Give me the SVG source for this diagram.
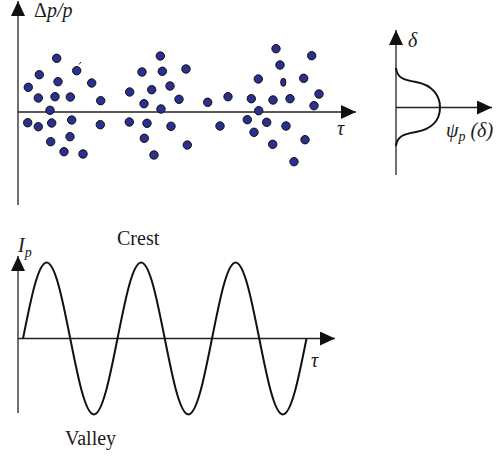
<svg xmlns="http://www.w3.org/2000/svg" width="496" height="459" viewBox="0 0 496 459">
<style>
.ax{stroke:#222;stroke-width:1.3;fill:none;marker-end:url(#ah)}
.dot{fill:#2b2f8f;stroke:#111;stroke-width:1}
.crv{stroke:#111;stroke-width:2;fill:none}
.t{font-family:"Liberation Serif","Times New Roman","DejaVu Serif",serif;font-size:20px;fill:#1a1a1a}
.m{font-family:"Liberation Serif","Times New Roman","DejaVu Serif",serif;font-size:20px;font-style:italic;fill:#1a1a1a}
</style>
<defs>
<marker id="ah" markerUnits="userSpaceOnUse" markerWidth="15" markerHeight="14" refX="15" refY="7" orient="auto" viewBox="0 0 15 14">
<path d="M0,0 L15,7 L0,14 z" fill="#111"/>
</marker>
</defs>
<g id="connectors">
<line class="ax" x1="18" y1="205" x2="18" y2="1"/>
<line class="ax" x1="18" y1="112" x2="356" y2="112"/>
<line class="ax" x1="396" y1="175" x2="396" y2="30"/>
<line class="ax" x1="396" y1="107.5" x2="492" y2="107.5"/>
<line class="ax" x1="18" y1="413" x2="18" y2="256"/>
<line class="ax" x1="18" y1="338.5" x2="335" y2="338.5"/>
</g>
<g id="scatter">
<circle class="dot" cx="28.3" cy="87.3" r="4.2"/><circle class="dot" cx="39.3" cy="74.7" r="4.2"/><circle class="dot" cx="56.7" cy="58.3" r="4.2"/><circle class="dot" cx="76.7" cy="70.7" r="4.2"/><circle class="dot" cx="58" cy="81.7" r="4.2"/><circle class="dot" cx="38.3" cy="98" r="4.2"/><circle class="dot" cx="55" cy="96.7" r="4.2"/><circle class="dot" cx="70.3" cy="97" r="4.2"/><circle class="dot" cx="91.7" cy="83" r="4.2"/><circle class="dot" cx="100.7" cy="100.7" r="4.2"/><circle class="dot" cx="50" cy="110.3" r="4.2"/><circle class="dot" cx="27.7" cy="122.7" r="4.2"/><circle class="dot" cx="38.3" cy="126.7" r="4.2"/><circle class="dot" cx="51.7" cy="123" r="4.2"/><circle class="dot" cx="71.7" cy="120" r="4.2"/><circle class="dot" cx="100.3" cy="124.7" r="4.2"/><circle class="dot" cx="50.7" cy="141.7" r="4.2"/><circle class="dot" cx="70" cy="136.7" r="4.2"/><circle class="dot" cx="64" cy="151.7" r="4.2"/><circle class="dot" cx="83" cy="154" r="4.2"/>
<circle class="dot" cx="129.7" cy="92" r="4.2"/><circle class="dot" cx="142" cy="72" r="4.2"/><circle class="dot" cx="160.3" cy="56" r="4.2"/><circle class="dot" cx="162.3" cy="71.3" r="4.2"/><circle class="dot" cx="151.7" cy="89.7" r="4.2"/><circle class="dot" cx="170" cy="86" r="4.2"/><circle class="dot" cx="144" cy="103.7" r="4.2"/><circle class="dot" cx="161" cy="109" r="4.2"/><circle class="dot" cx="179" cy="99.3" r="4.2"/><circle class="dot" cx="129.3" cy="122" r="4.2"/><circle class="dot" cx="147" cy="123.3" r="4.2"/><circle class="dot" cx="171" cy="126.3" r="4.2"/><circle class="dot" cx="144.3" cy="138.3" r="4.2"/><circle class="dot" cx="154" cy="155" r="4.2"/><circle class="dot" cx="186" cy="69" r="4.2"/><circle class="dot" cx="187.3" cy="145" r="4.2"/>
<circle class="dot" cx="207.7" cy="102.3" r="4.2"/><circle class="dot" cx="228" cy="96.7" r="4.2"/><circle class="dot" cx="220" cy="126" r="4.2"/><circle class="dot" cx="276" cy="48.7" r="4.2"/><circle class="dot" cx="311.7" cy="55.7" r="4.2"/><circle class="dot" cx="280" cy="65" r="4.2"/><circle class="dot" cx="258.3" cy="79" r="4.2"/><circle class="dot" cx="303.7" cy="78.3" r="4.2"/><circle class="dot" cx="319" cy="94" r="4.2"/><circle class="dot" cx="251.3" cy="98.7" r="4.2"/><circle class="dot" cx="273" cy="100" r="4.2"/><circle class="dot" cx="290" cy="98.7" r="4.2"/><circle class="dot" cx="314" cy="105.7" r="4.2"/><circle class="dot" cx="258.7" cy="110.7" r="4.2"/><circle class="dot" cx="247.3" cy="119.7" r="4.2"/><circle class="dot" cx="266.7" cy="122.3" r="4.2"/><circle class="dot" cx="286" cy="126" r="4.2"/><circle class="dot" cx="254" cy="132.3" r="4.2"/><circle class="dot" cx="272.7" cy="144.3" r="4.2"/><circle class="dot" cx="305" cy="139.7" r="4.2"/><circle class="dot" cx="294" cy="161.7" r="4.2"/>
<ellipse class="dot" cx="283.3" cy="82.3" rx="2.6" ry="4"/>
<line x1="79" y1="64.5" x2="81" y2="62" stroke="#222" stroke-width="1"/>
</g>
<g id="distribution">
<path class="crv" d="M396,68 C397,78 404,80 416,82 C432,85 440,95 440,107.5 C440,120 432,129 416,132 C404,134 397,136 396,146"/>
</g>
<g id="wave">
<path class="crv" d="M23,338.5 C30.7,299.6 38.08,262.5 46.63,262.5 S62.55,299.6 70.25,338.5 S85.33,414.5 93.88,414.5 S109.8,377.4 117.5,338.5 S132.58,262.5 141.13,262.5 S157.05,299.6 164.75,338.5 S179.83,414.5 188.38,414.5 S204.3,377.4 212,338.5 S227.08,262.5 235.63,262.5 S251.55,299.6 259.25,338.5 S274.33,414.5 282.88,414.5 S298.8,377.4 306.5,338.5"/>
</g>
<g id="labels">
<text class="m" x="34" y="17"><tspan font-style="normal">Δ</tspan>p/p</text>
<text class="m" x="337" y="135">τ</text>
<text class="m" x="408" y="47">δ</text>
<text class="m" x="446" y="137">ψ<tspan font-size="14" dy="4">p</tspan><tspan dy="-4"> (δ)</tspan></text>
<text class="m" x="18" y="252">I<tspan font-size="14" dy="5">p</tspan></text>
<text class="t" x="117" y="245">Crest</text>
<text class="t" x="65" y="445">Valley</text>
<text class="m" x="311" y="367">τ</text>
</g>
</svg>
